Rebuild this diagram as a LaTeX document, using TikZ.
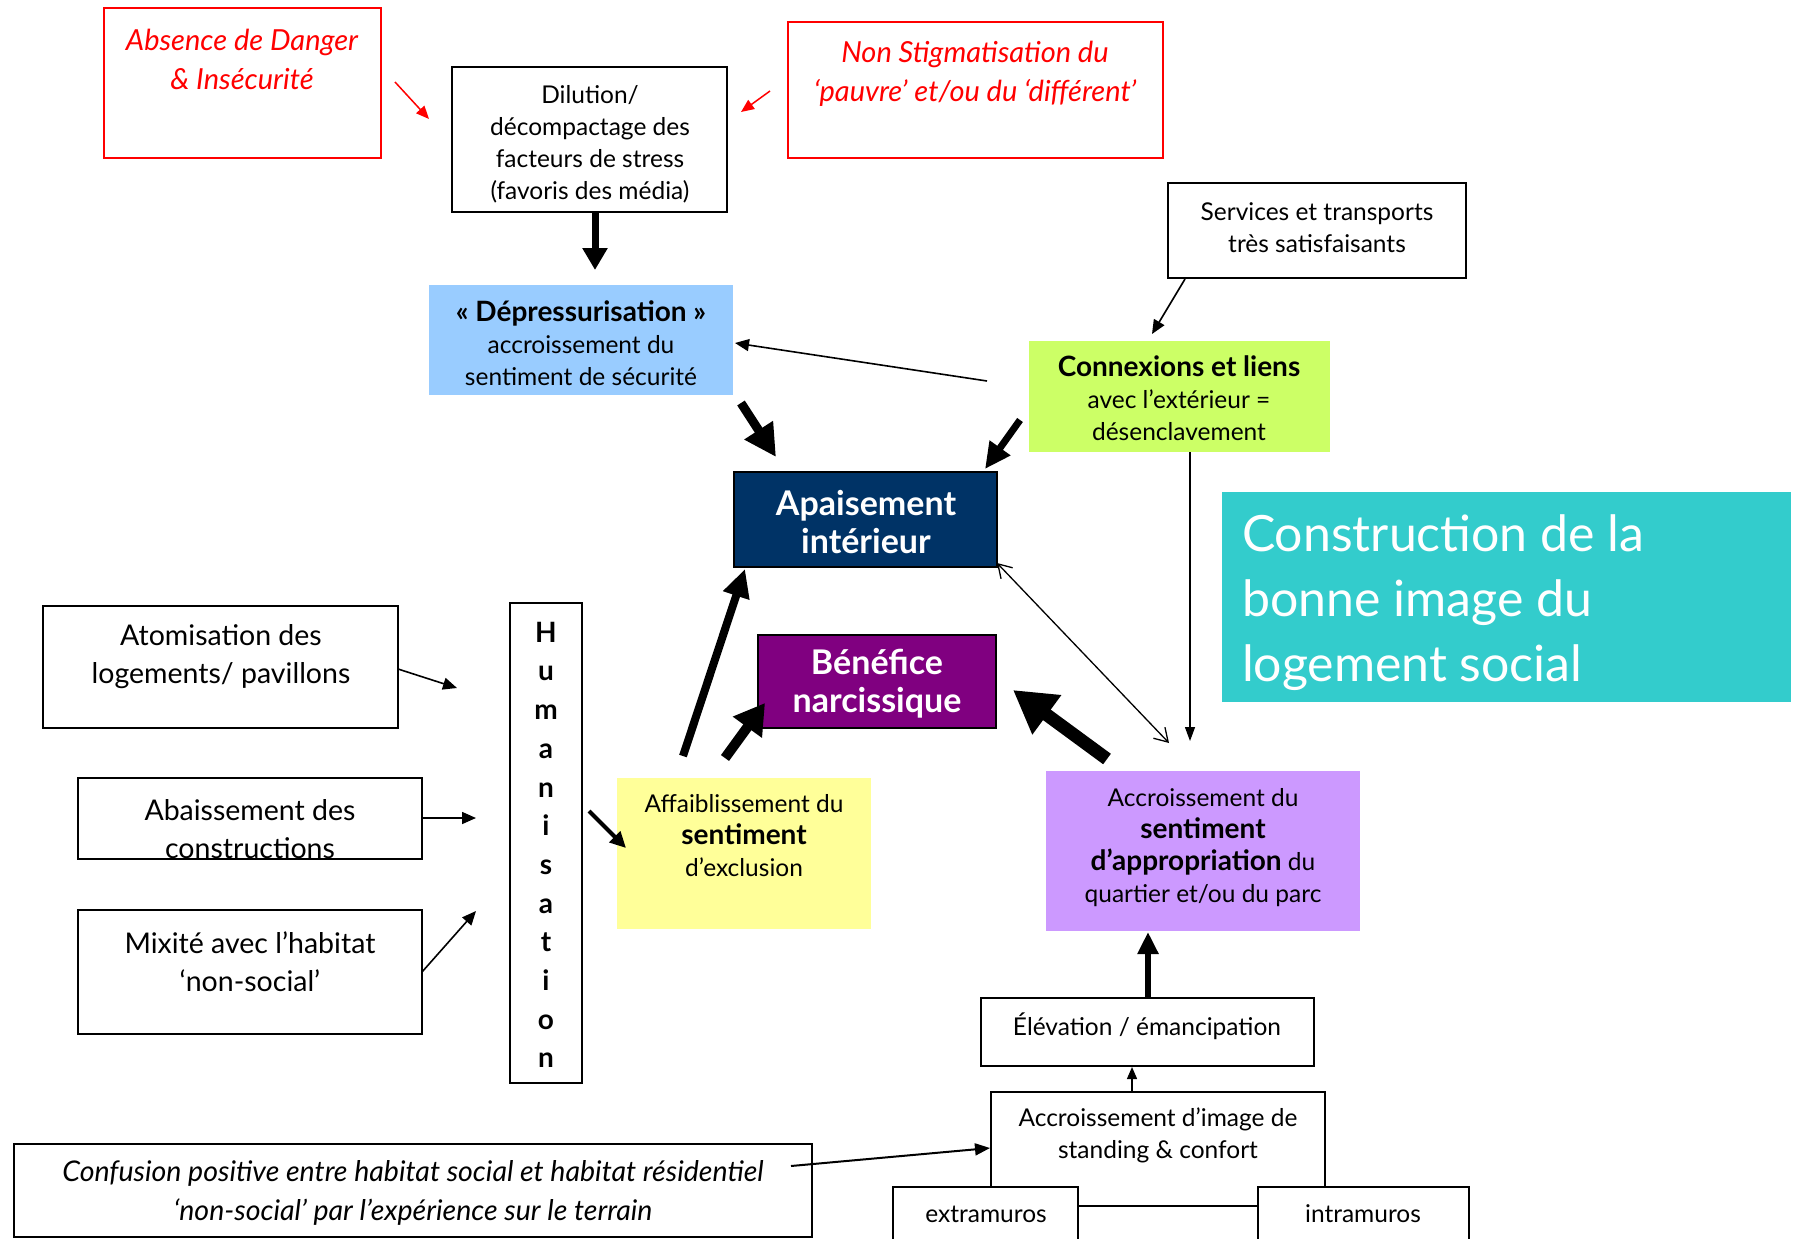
\documentclass[tikz,border=0pt]{standalone}
\usepackage{fontspec}
\setmainfont{Lato}
\usetikzlibrary{arrows.meta,calc}
\definecolor{redc}{HTML}{FF0000}
\definecolor{depc}{HTML}{99CCFF}
\definecolor{cnxc}{HTML}{CCFF66}
\definecolor{apac}{HTML}{003366}
\definecolor{benc}{HTML}{800080}
\definecolor{affc}{HTML}{FFFF99}
\definecolor{acsc}{HTML}{CC99FF}
\definecolor{cyac}{HTML}{33CCCC}
\newcommand\fsRed{\fontsize{29}{39}\selectfont}
\newcommand\fsN{\fontsize{24.5}{32}\selectfont}
\newcommand\fsBL{\fontsize{28}{32}\selectfont\bfseries}
\newcommand\fsS{\fontsize{24.5}{32}\selectfont}
\newcommand\fsL{\fontsize{28.5}{38}\selectfont}
\newcommand\fsB{\fontsize{34}{38}\selectfont}
\newcommand\fsH{\fontsize{50}{65}\selectfont}
\newcommand\fsC{\fontsize{28.5}{39}\selectfont}
\begin{document}
\begin{tikzpicture}[x=1pt,y=-1pt,
  bx/.style={draw, line width=2pt, inner sep=0pt, outer sep=0pt},
  rbx/.style={draw=redc, line width=2pt, inner sep=0pt, outer sep=0pt},
  fbx/.style={inner sep=0pt, outer sep=0pt, fill=#1},
  txt/.style={inner sep=0pt, outer sep=0pt, align=center},
  thin/.style={line width=1.6pt, -{Triangle[length=14pt,width=12pt]}},
  rthin/.style={draw=redc, line width=1.5pt, -{Triangle[length=13pt,width=11pt]}, redc},
  thk/.style n args={3}{line width=#1pt, -{Triangle[length=#2pt,width=#3pt]}}
]
\clip (0,0) rectangle (1793,1239);
\fill[white] (0,0) rectangle (1793,1239);

% red boxes
\node[rbx, minimum width=277, minimum height=150] (abs) at (242.5,83) {};
\node[txt, font=\fsRed\itshape, text=redc] (abst) at (242,59) {Absence de Danger\\\& Insécurité};
\node[rbx, minimum width=375, minimum height=136] (nst) at (975.5,90) {};
\node[txt, font=\fsRed\itshape, text=redc] (nstt) at (975,74) {Non Stigmatisation du\\‘pauvre’ et/ou du ‘différent’};

% Dilution
\node[bx, minimum width=275, minimum height=145] (dil) at (589.5,139.5) {};
\node[txt, font=\fsN] (dilt) at (590,144) {Dilution/\\décompactage des\\facteurs de stress\\(favoris des média)};

% Services
\node[bx, minimum width=298, minimum height=95] (srv) at (1317,230.5) {};
\node[txt, font=\fsS] (srvt) at (1317,228) {Services et transports\\très satisfaisants};

% Depressurisation
\node[fbx=depc, minimum width=304, minimum height=110] (dep) at (581,340) {};
\node[txt, font=\fsN] (dept) at (581,343) {{\fsBL « Dépressurisation »}\\accroissement du\\sentiment de sécurité};

% Connexions
\node[fbx=cnxc, minimum width=301, minimum height=111] (cnx) at (1179.5,396.5) {};
\node[txt, font=\fsN] (cnxt) at (1179,398) {{\fsBL Connexions et liens}\\avec l’extérieur =\\désenclavement};

% Apaisement
\node[bx, fill=apac, minimum width=263, minimum height=95] (apa) at (865.5,519.5) {};
\node[txt, font=\fsB\bfseries, text=white] (apat) at (866,522) {Apaisement\\intérieur};

% Cyan title
\node[fbx=cyac, minimum width=569, minimum height=210] (cya) at (1506.5,597) {};
\node[txt, align=left, anchor=west, font=\fsH, text=white] (cyat) at (1242,603) {Construction de la\\bonne image du\\logement social};

% Benefice
\node[bx, fill=benc, minimum width=238, minimum height=93] (ben) at (877,681.5) {};
\node[txt, font=\fsB\bfseries, text=white] (bent) at (877,684) {Bénéfice\\narcissique};

% left boxes
\node[bx, minimum width=355, minimum height=122] (ato) at (220.5,667) {};
\node[txt, font=\fsL] (atot) at (221,657) {Atomisation des\\logements/ pavillons};
\node[bx, minimum width=344, minimum height=81] (aba) at (250,818.5) {};
\node[txt, font=\fsL] (abat) at (250,829) {Abaissement des\\constructions};
\node[bx, minimum width=344, minimum height=124] (mix) at (250,972) {};
\node[txt, font=\fsL] (mixt) at (250,962) {Mixité avec l’habitat\\‘non-social’};

% Humanisation
\node[bx, minimum width=72, minimum height=480] (hum) at (546,843) {};
\node[txt, font=\fontsize{28}{38.7}\selectfont\bfseries] (humt) at (546,845) {H\\u\\m\\a\\n\\i\\s\\a\\t\\i\\o\\n};

% Affaiblissement
\node[fbx=affc, minimum width=254, minimum height=151] (aff) at (744,853.5) {};
\node[txt, font=\fsN] (afft) at (744,836) {Affaiblissement du\\{\fsBL sentiment}\\d’exclusion};

% Accroissement sentiment
\node[fbx=acsc, minimum width=314, minimum height=160] (acs) at (1203,851) {};
\node[txt, font=\fsN] (acst) at (1203,848) {Accroissement du\\{\fsBL sentiment}\\{\fsBL d’appropriation} du\\quartier et/ou du parc};

% Elevation
\node[bx, minimum width=333, minimum height=68] (ele) at (1147.5,1032) {};
\node[txt, font=\fsS] (elet) at (1147,1026) {Élévation / émancipation};

% Accroissement d'image
\node[bx, minimum width=334, minimum height=114] (aci) at (1158,1149) {};
\node[txt, font=\fsS] (acit) at (1158,1135) {Accroissement d’image de\\standing \& confort};
\node[bx, fill=white, minimum width=185, minimum height=73] (ext) at (985.5,1223.5) {};
\node[txt, font=\fsS] (extt) at (986,1214) {extramuros};
\node[bx, fill=white, minimum width=211, minimum height=73] (int) at (1363.5,1223.5) {};
\node[txt, font=\fsS] (intt) at (1363,1214) {intramuros};

% Confusion
\node[bx, minimum width=798, minimum height=93] (con) at (413,1190.5) {};
\node[txt, font=\fsC\itshape] (cont) at (413,1193) {Confusion positive entre habitat social et habitat résidentiel\\‘non-social’ par l’expérience sur le terrain};

% coordinates for free ends
\coordinate (r1s) at (395,82);   \coordinate (r1e) at (429,119);
\coordinate (r2s) at (770,91);   \coordinate (r2e) at (741,112);
\coordinate (d1s) at (595,213);  \coordinate (d1e) at (595,270);
\coordinate (s1s) at (1185,279); \coordinate (s1e) at (1152,334);
\coordinate (c1s) at (987,381);  \coordinate (c1e) at (735,343);
\coordinate (p1s) at (741,403);  \coordinate (p1e) at (776,457);
\coordinate (c2s) at (1020,420); \coordinate (c2e) at (985,469);
\coordinate (c3s) at (1190,452); \coordinate (c3e) at (1190,741);
\coordinate (x1s) at (997,563);  \coordinate (x1e) at (1169,743);
\coordinate (f1s) at (683,756);  \coordinate (f1e) at (745,569);
\coordinate (f2s) at (725,758);  \coordinate (f2e) at (765,703);
\coordinate (a1s) at (1107,759); \coordinate (a1e) at (1013,690);
\coordinate (h1s) at (589,811);  \coordinate (h1e) at (626,848);
\coordinate (t1s) at (398,669);  \coordinate (t1e) at (457,688);
\coordinate (b1s) at (422,818);  \coordinate (b1e) at (476,818);
\coordinate (m1s) at (422,972);  \coordinate (m1e) at (476,911);
\coordinate (e1s) at (1148,998); \coordinate (e1e) at (1148,932);
\coordinate (i1s) at (1132,1092);\coordinate (i1e) at (1132,1067);
\coordinate (o1s) at (791,1166); \coordinate (o1e) at (990,1148);

% red arrows
\draw[rthin] (r1s) -- (r1e);
\draw[rthin] (r2s) -- (r2e);

% thick arrows
\draw[thk={7}{22}{24}] (d1s) -- (d1e);
\draw[thk={9}{32}{32}] (p1s) -- (p1e);
\draw[thk={7}{26}{24}] (c2s) -- (c2e);
\draw[thk={8}{28}{26}] (f1s) -- (f1e);
\draw[thk={10}{30}{34}] (f2s) -- (f2e);
\draw[thk={13}{42}{46}] (a1s) -- (a1e);
\draw[thk={4}{16}{15}] (h1s) -- (h1e);
\draw[thk={6}{22}{20}] (e1s) -- (e1e);

% thin arrows
\draw[thin] (s1s) -- (s1e);
\draw[thin] (c1s) -- (c1e);
\draw[line width=1.3pt, -{Triangle[length=14pt,width=10pt]}] (c3s) -- (c3e);
\draw[line width=1.3pt, {Straight Barb[length=13pt,width=16pt]}-{Straight Barb[length=13pt,width=16pt]}] (x1s) -- (x1e);
\draw[thin] (t1s) -- (t1e);
\draw[thin] (b1s) -- (b1e);
\draw[thin] (m1s) -- (m1e);
\draw[line width=1.4pt, -{Triangle[length=12pt,width=10pt]}] (i1s) -- (i1e);
\draw[line width=2pt, -{Triangle[length=15pt,width=12pt]}] (o1s) -- (o1e);
\end{tikzpicture}
\end{document}
